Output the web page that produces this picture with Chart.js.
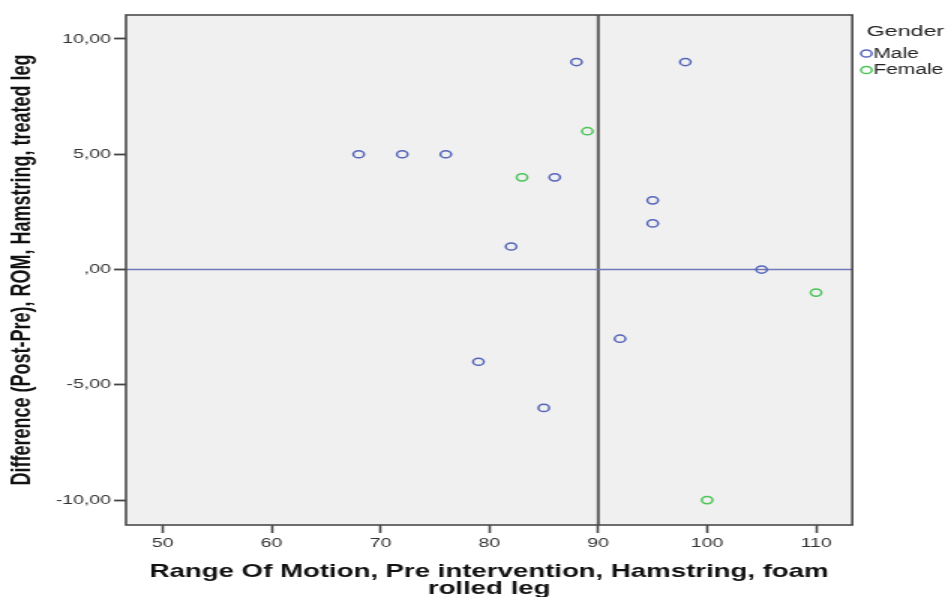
<!DOCTYPE html>
<html>
<head>
<meta charset="utf-8">
<script src="https://cdn.jsdelivr.net/npm/chart.js@4/dist/chart.umd.min.js"></script>
<style>
  html, body { margin: 0; padding: 0; background: #ffffff; overflow: hidden; }
  /* the chart is laid out narrow and widened horizontally */
  #wrap { position: relative; width: 632px; height: 597px; transform: scaleX(1.5); transform-origin: 0 0; }
</style>
</head>
<body>
<div id="wrap"><canvas id="chart"></canvas></div>
<script>
// Gender groups
const genderLabels = ['Male', 'Female'];

// Pre-intervention ROM (x) and post-pre difference (y), treated leg
const maleX   = [68, 72, 76, 88, 98, 86, 95, 95, 82, 105, 92, 79, 85];
const maleY   = [5, 5, 5, 9, 9, 4, 3, 2, 1, 0, -3, -4, -6];
const femaleX = [89, 83, 110, 100];
const femaleY = [6, 4, -1, -10];

// Axis ticks
const xTickValues = [50, 60, 70, 80, 90, 100, 110];
const yTickValues = [-10, -5, 0, 5, 10];
const yTickLabels = ['-10,00', '-5,00', ',00', '5,00', '10,00'];

// Reference lines
const refX = 90;
const refY = 0;

const FONT = "'Liberation Sans', Arial, sans-serif";
Chart.defaults.font.family = FONT;

const toPoints = (xs, ys) => xs.map((x, i) => ({ x: x, y: ys[i] }));

const plotBackground = {
  id: 'plotBackground',
  beforeDraw(chart) {
    const { ctx, chartArea: a } = chart;
    ctx.save();
    ctx.fillStyle = '#f0f0f0';
    ctx.fillRect(a.left, a.top, a.right - a.left, a.bottom - a.top);
    ctx.restore();
  }
};

const referenceLines = {
  id: 'referenceLines',
  beforeDatasetsDraw(chart) {
    const { ctx, chartArea: a, scales } = chart;
    const px = scales.x.getPixelForValue(refX);
    const py = scales.y.getPixelForValue(refY);
    ctx.save();
    ctx.strokeStyle = '#5e5e5e';
    ctx.lineWidth = 2;
    ctx.beginPath();
    ctx.moveTo(px, a.top);
    ctx.lineTo(px, a.bottom);
    ctx.stroke();
    ctx.strokeStyle = '#7379b4';
    ctx.lineWidth = 1.6;
    ctx.beginPath();
    ctx.moveTo(a.left, py);
    ctx.lineTo(a.right, py);
    ctx.stroke();
    ctx.restore();
  }
};

const plotFrame = {
  id: 'plotFrame',
  afterDatasetsDraw(chart) {
    const { ctx, chartArea: a } = chart;
    ctx.save();
    ctx.strokeStyle = '#4a4a4a';
    ctx.lineWidth = 1.6;
    ctx.strokeRect(a.left, a.top, a.right - a.left, a.bottom - a.top);
    ctx.restore();
  }
};

const genderLegend = {
  id: 'genderLegend',
  afterDraw(chart) {
    const { ctx, chartArea: a } = chart;
    const x0 = a.right + 9.6;
    ctx.save();
    ctx.fillStyle = '#222222';
    ctx.textAlign = 'left';
    ctx.font = '15.5px ' + FONT;
    ctx.textBaseline = 'alphabetic';
    ctx.fillText('Gender', x0, 36);
    chart.data.datasets.forEach((ds, i) => {
      const cy = 53.5 + i * 16.5;
      ctx.beginPath();
      ctx.arc(x0 - 0.2, cy, 3.6, 0, Math.PI * 2);
      ctx.strokeStyle = ds.borderColor;
      ctx.lineWidth = 1.5;
      ctx.stroke();
      ctx.font = '14px ' + FONT;
      ctx.textBaseline = 'middle';
      ctx.fillStyle = '#222222';
      ctx.fillText(ds.label, x0 + 4.4, cy + 0.5);
    });
    ctx.restore();
  }
};

new Chart(document.getElementById('chart'), {
  type: 'scatter',
  data: {
    datasets: [
      {
        label: genderLabels[0],
        data: toPoints(maleX, maleY),
        borderColor: '#5566bb',
        backgroundColor: 'rgba(0,0,0,0)',
        borderWidth: 1.5,
        pointRadius: 3.6,
        pointHoverRadius: 3.6
      },
      {
        label: genderLabels[1],
        data: toPoints(femaleX, femaleY),
        borderColor: '#4cc55a',
        backgroundColor: 'rgba(0,0,0,0)',
        borderWidth: 1.5,
        pointRadius: 3.6,
        pointHoverRadius: 3.6
      }
    ]
  },
  options: {
    responsive: true,
    maintainAspectRatio: false,
    animation: false,
    devicePixelRatio: 1,
    layout: { padding: { left: 0, top: 15, right: 63.8, bottom: 0 } },
    plugins: {
      legend: { display: false },
      tooltip: { enabled: false }
    },
    scales: {
      x: {
        type: 'linear',
        min: 46.63,
        max: 113.33,
        afterFit(scale) { scale.height = 72; },
        afterBuildTicks(scale) { scale.ticks = xTickValues.map(v => ({ value: v })); },
        border: { display: false },
        grid: { drawOnChartArea: false, drawTicks: true, tickLength: 8, tickColor: '#444444', tickWidth: 1.6 },
        ticks: { color: '#333333', font: { size: 13 }, padding: 3, maxRotation: 0, autoSkip: false },
        title: {
          display: true,
          text: ['Range Of Motion, Pre intervention, Hamstring, foam', 'rolled leg'],
          color: '#111111',
          font: { size: 18.4, weight: 'bold', lineHeight: 17 / 18.4 },
          padding: { top: 0, bottom: 0 }
        }
      },
      y: {
        type: 'linear',
        min: -11.08,
        max: 11.04,
        afterFit(scale) { scale.width = 84; },
        afterBuildTicks(scale) { scale.ticks = yTickValues.map(v => ({ value: v })); },
        border: { display: false },
        grid: { drawOnChartArea: false, drawTicks: true, tickLength: 8, tickColor: '#444444', tickWidth: 1.8 },
        ticks: {
          color: '#333333',
          font: { size: 13 },
          padding: 2,
          autoSkip: false,
          callback: (value) => {
            const i = yTickValues.indexOf(value);
            return i >= 0 ? yTickLabels[i] : '';
          }
        },
        title: {
          display: true,
          text: 'Difference (Post-Pre), ROM, Hamstring, treated leg',
          color: '#111111',
          font: { size: 18, weight: 'bold', lineHeight: 1.2 },
          padding: { top: 4, bottom: 0 }
        }
      }
    }
  },
  plugins: [plotBackground, referenceLines, plotFrame, genderLegend]
});
</script>
</body>
</html>
